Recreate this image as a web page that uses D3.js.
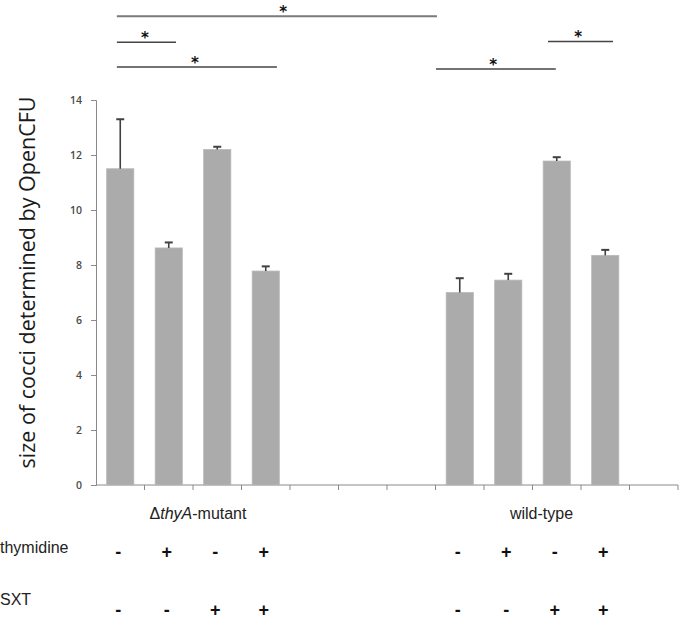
<!DOCTYPE html>
<html>
<head>
<meta charset="utf-8">
<script src="https://cdn.jsdelivr.net/npm/d3@7"></script>
<style>
  body { margin: 0; background: #fff; }
  svg { display: block; }
</style>
</head>
<body>
<div id="chart"></div>
<script>
var width = 680;
var height = 621;

// 12 category slots: 4 mutant, 3 empty, 4 wild-type, 1 empty
var slots = ['m1', 'm2', 'm3', 'm4', 'e1', 'e2', 'e3', 'w1', 'w2', 'w3', 'w4', 'e4'];
var values = [11.5, 8.62, 12.2, 7.78, null, null, null, 7.0, 7.45, 11.78, 8.35, null];
var errors = [1.8, 0.2, 0.1, 0.17, null, null, null, 0.52, 0.23, 0.14, 0.2, null];
var yTicks = [0, 2, 4, 6, 8, 10, 12, 14];

var groups = [
    { name: 'mutant', first: 'm1', last: 'm4' },
    { name: 'wild-type', first: 'w1', last: 'w4' }
];
var thymidine = ['-', '+', '-', '+', '-', '+', '-', '+'];
var sxt = ['-', '-', '+', '+', '-', '-', '+', '+'];
var signSlots = ['m1', 'm2', 'm3', 'm4', 'w1', 'w2', 'w3', 'w4'];

// significance bars: from/to in slot units, level in value units
var sigFrom = [0.43, 0.43, 0.43, 7.01, 9.32];
var sigTo = [7.03, 1.65, 3.73, 9.48, 10.66];
var sigLevel = [17.05, 16.1, 15.2, 15.13, 16.13];
var sigStar = [3.86, 1.01, 2.04, 8.19, 9.94];

var margin = { left: 96, right: 2, top: 100, bottom: 136 };

var x = d3.scaleBand()
    .domain(slots)
    .range([margin.left, width - margin.right])
    .paddingInner(0.44)
    .paddingOuter(0.22);

var step = x.step();
var xu = d3.scaleLinear()
    .domain([0, slots.length])
    .range([margin.left, margin.left + step * slots.length]);

var y = d3.scaleLinear()
    .domain([0, 14])
    .range([485, 100]);

var svg = d3.select('#chart')
    .append('svg')
    .attr('width', width)
    .attr('height', height);

// y axis
var yAxis = svg.append('g')
    .attr('transform', 'translate(' + margin.left + ',0)')
    .call(d3.axisLeft(y).tickValues(yTicks).tickSize(5).tickPadding(9));
yAxis.select('.domain').attr('stroke', '#8a8a8a');
yAxis.selectAll('.tick line').attr('stroke', '#8a8a8a');
yAxis.selectAll('.tick text')
    .attr('fill', '#4a4a4a')
    .style('font-family', 'Open Sans, sans-serif')
    .style('font-weight', '600')
    .style('font-size', '10.5px');

// x axis baseline with ticks at slot boundaries
svg.append('line')
    .attr('x1', xu(0)).attr('x2', xu(slots.length))
    .attr('y1', y(0)).attr('y2', y(0))
    .attr('stroke', '#8a8a8a');
svg.append('g')
    .selectAll('line')
    .data(d3.range(1, slots.length + 1))
    .enter()
    .append('line')
    .attr('x1', d => xu(d)).attr('x2', d => xu(d))
    .attr('y1', y(0)).attr('y2', y(0) + 5)
    .attr('stroke', '#8a8a8a');

var barData = slots.map((s, i) => ({ slot: s, v: values[i], e: errors[i] }))
    .filter(d => d.v != null);

// bars
svg.append('g')
    .selectAll('rect')
    .data(barData)
    .enter()
    .append('rect')
    .attr('x', d => x(d.slot))
    .attr('width', x.bandwidth())
    .attr('y', d => y(d.v))
    .attr('height', d => y(0) - y(d.v))
    .attr('fill', '#ababab')
    .attr('stroke', '#b8b8b8')
    .attr('stroke-width', 0.8);

// error bars (upper only)
var eb = svg.append('g')
    .attr('stroke', '#404040')
    .attr('stroke-width', 1.6);
eb.selectAll('.v')
    .data(barData)
    .enter()
    .append('line')
    .attr('x1', d => x(d.slot) + x.bandwidth() / 2)
    .attr('x2', d => x(d.slot) + x.bandwidth() / 2)
    .attr('y1', d => y(d.v))
    .attr('y2', d => y(d.v + d.e));
eb.selectAll('.c')
    .data(barData)
    .enter()
    .append('line')
    .attr('x1', d => x(d.slot) + x.bandwidth() / 2 - 4)
    .attr('x2', d => x(d.slot) + x.bandwidth() / 2 + 4)
    .attr('y1', d => y(d.v + d.e))
    .attr('y2', d => y(d.v + d.e))
    .attr('stroke-width', 2);

// y title
svg.append('text')
    .attr('transform', 'translate(35,' + ((y(0) + y(14)) / 2 - 10) + ') rotate(-90)')
    .attr('text-anchor', 'middle')
    .attr('fill', '#1a1a1a')
    .style('font-family', 'Open Sans, sans-serif')
    .style('font-size', '21.5px')
    .text('size of cocci determined by OpenCFU');

// significance lines
var sig = sigFrom.map((f, i) => ({ f: f, t: sigTo[i], lv: sigLevel[i], s: sigStar[i], top: i === 0 }));
svg.append('g')
    .selectAll('line')
    .data(sig)
    .enter()
    .append('line')
    .attr('x1', d => xu(d.f))
    .attr('x2', d => xu(d.t))
    .attr('y1', d => y(d.lv))
    .attr('y2', d => y(d.lv))
    .attr('stroke', d => d.top ? '#7a7a7a' : '#444')
    .attr('stroke-width', d => d.top ? 2 : 1.6);
svg.append('g')
    .selectAll('text')
    .data(sig)
    .enter()
    .append('text')
    .attr('x', d => xu(d.s))
    .attr('y', d => y(d.lv) + 1)
    .attr('text-anchor', 'middle')
    .attr('fill', '#111')
    .style('font-family', 'DejaVu Sans, sans-serif')
    .style('font-weight', 'bold')
    .style('font-size', '15px')
    .text('*');

// group labels
var groupText = svg.append('g')
    .style('font-family', 'Liberation Sans, Arial, sans-serif')
    .style('font-size', '16px')
    .attr('fill', '#222')
    .attr('text-anchor', 'middle');
var gm = groupText.append('text')
    .attr('x', (x(groups[0].first) + x(groups[0].last) + x.bandwidth()) / 2 + 5)
    .attr('y', 519);
gm.append('tspan').text('\u0394');
gm.append('tspan').style('font-style', 'italic').text('thyA');
gm.append('tspan').text('-mutant');
groupText.append('text')
    .attr('x', (x(groups[1].first) + x(groups[1].last) + x.bandwidth()) / 2 + 9)
    .attr('y', 519)
    .text(groups[1].name);

// row labels
var rowText = svg.append('g')
    .style('font-family', 'Liberation Sans, Arial, sans-serif')
    .style('font-size', '16px')
    .attr('fill', '#222');
rowText.append('text').attr('x', 0).attr('y', 553).text('thymidine');
rowText.append('text').attr('x', 0).attr('y', 605).text('SXT');

// +/- signs
var signs = svg.append('g')
    .style('font-family', 'Liberation Sans, Arial, sans-serif')
    .style('font-weight', 'bold')
    .style('font-size', '18px')
    .attr('fill', '#111')
    .attr('text-anchor', 'middle');
signs.selectAll('.t')
    .data(thymidine)
    .enter()
    .append('text')
    .attr('x', (d, i) => x(signSlots[i]) + x.bandwidth() / 2 - 2)
    .attr('y', 558)
    .text(d => d);
signs.selectAll('.s')
    .data(sxt)
    .enter()
    .append('text')
    .attr('x', (d, i) => x(signSlots[i]) + x.bandwidth() / 2 - 2)
    .attr('y', 616)
    .text(d => d);
</script>
</body>
</html>
